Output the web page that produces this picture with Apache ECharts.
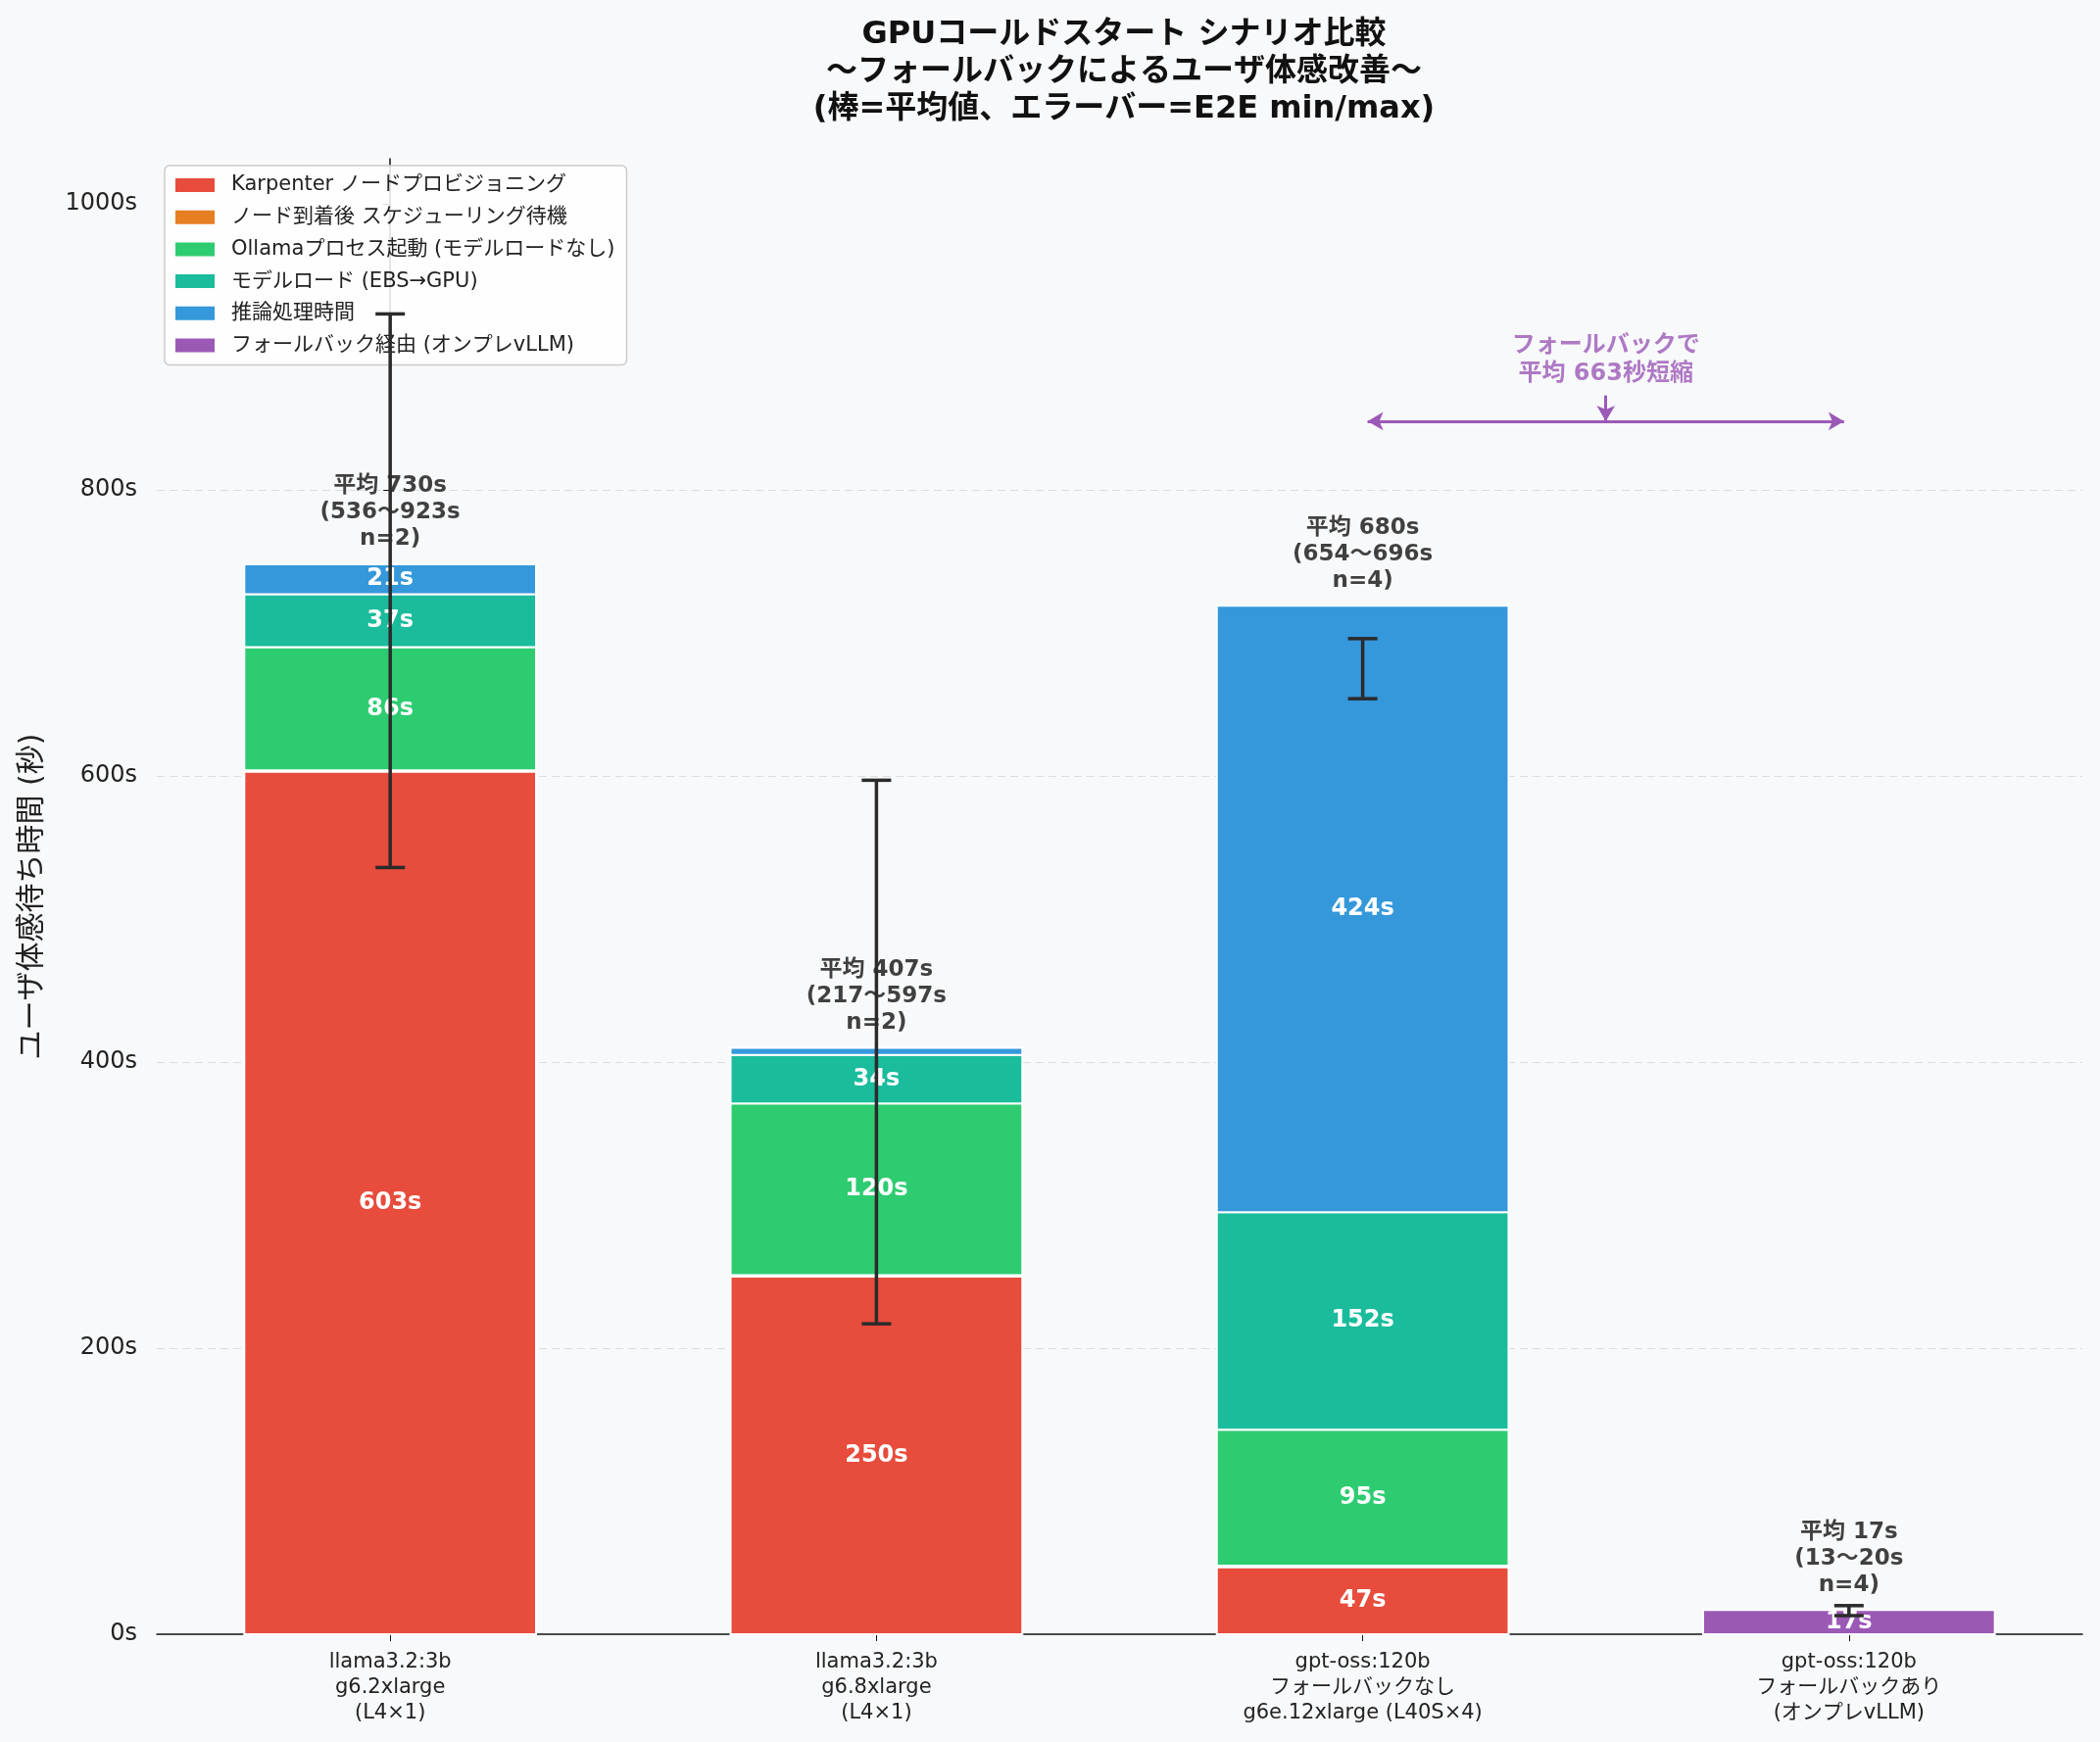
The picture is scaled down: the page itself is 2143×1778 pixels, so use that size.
<!DOCTYPE html>
<html>
<head>
<meta charset="utf-8">
<script src="https://cdn.jsdelivr.net/npm/echarts@6/dist/echarts.min.js"></script>
<style>
  html, body { margin: 0; padding: 0; background: #f8f9fa; }
  #chart { width: 2143px; height: 1778px; }
</style>
</head>
<body>
<div id="chart"></div>
<script>
// カテゴリ（x軸ラベル）
const categories = [
  'llama3.2:3b\ng6.2xlarge\n(L4×1)',
  'llama3.2:3b\ng6.8xlarge\n(L4×1)',
  'gpt-oss:120b\nフォールバックなし\ng6e.12xlarge (L40S×4)',
  'gpt-oss:120b\nフォールバックあり\n(オンプレvLLM)'
];

// 内訳（秒）
const karpenter  = [603, 250, 47, null];
const scheduling = [1, 1, 1, null];
const ollama     = [86, 120, 95, null];
const modelLoad  = [37, 34, 152, null];
const inference  = [21, 5, 424, null];
const fallback   = [null, null, null, 17];

// E2E 統計
const meanE2E = [730, 407, 680, 17];
const minE2E  = [536, 217, 654, 13];
const maxE2E  = [923, 597, 696, 20];
const sampleN = [2, 2, 4, 4];

// y軸目盛り
const yTicks = [0, 200, 400, 600, 800, 1000];

// フォールバック効果の注記
const savingText = 'フォールバックで\n平均 663秒短縮';
const savingY = 848;

const FONT = '"DejaVu Sans", "Noto Sans CJK JP", sans-serif';

const segments = [
  { name: 'Karpenter ノードプロビジョニング', data: karpenter, color: '#e74c3c' },
  { name: 'ノード到着後 スケジューリング待機', data: scheduling, color: '#e67e22' },
  { name: 'Ollamaプロセス起動 (モデルロードなし)', data: ollama, color: '#2ecc71' },
  { name: 'モデルロード (EBS→GPU)', data: modelLoad, color: '#1abc9c' },
  { name: '推論処理時間', data: inference, color: '#3498db' },
  { name: 'フォールバック経由 (オンプレvLLM)', data: fallback, color: '#9b59b6' }
];

function initChart() {
  const chart = echarts.init(document.getElementById('chart'));

  // 積み上げの下端を計算
  const base = categories.map(() => 0);
  const barSeries = segments.map(seg => {
    const data = [];
    seg.data.forEach((v, i) => {
      if (v == null) return;
      data.push([i, base[i], v]);
      base[i] += v;
    });
    return {
      name: seg.name,
      type: 'custom',
      itemStyle: { color: seg.color },
      z: 2,
      data: data,
      encode: { x: 0, y: 1 },
      renderItem: (params, api) => {
        const x = api.value(0);
        const b = api.value(1);
        const v = api.value(2);
        const p0 = api.coord([x, b]);
        const p1 = api.coord([x, b + v]);
        const w = api.size([0.6, 0])[0];
        const el = {
          type: 'rect',
          shape: { x: p0[0] - w / 2, y: p1[1], width: w, height: p0[1] - p1[1] },
          style: { fill: seg.color, stroke: '#ffffff', lineWidth: 2 }
        };
        if (v >= 15) {
          el.textContent = {
            style: {
              text: v + 's',
              fill: '#ffffff',
              fontSize: 24,
              fontWeight: 'bold',
              fontFamily: FONT
            }
          };
          el.textConfig = { position: 'inside' };
        }
        return el;
      }
    };
  });
  const totals = base.slice();

  const option = {
    backgroundColor: '#f8f9fa',
    animation: false,
    textStyle: { fontFamily: FONT },
    title: {
      text: 'GPUコールドスタート シナリオ比較\n～フォールバックによるユーザ体感改善～\n(棒=平均値、エラーバー=E2E min/max)',
      left: 1142,
      top: 12,
      textAlign: 'center',
      textStyle: {
        fontFamily: FONT,
        fontSize: 32,
        fontWeight: 'bold',
        lineHeight: 38,
        color: '#111111'
      }
    },
    legend: {
      orient: 'vertical',
      left: 168,
      top: 169,
      padding: [9, 12, 9, 11],
      itemWidth: 40,
      itemHeight: 14,
      itemGap: 10.7,
      icon: 'rect',
      backgroundColor: 'rgba(255,255,255,0.85)',
      borderColor: '#cccccc',
      borderWidth: 1.5,
      borderRadius: 5,
      textStyle: {
        fontFamily: FONT,
        fontSize: 21,
        lineHeight: 22,
        color: '#222222',
        padding: [0, 0, 0, 12]
      },
      data: segments.map(s => s.name)
    },
    grid: { left: 160, right: 18, top: 162, bottom: 110 },
    xAxis: {
      type: 'value',
      min: -0.48,
      max: 3.48,
      splitLine: { show: false },
      axisLine: { lineStyle: { color: '#111111', width: 1.5 } },
      axisTick: { customValues: [0, 1, 2, 3], length: 7, lineStyle: { color: '#111111' } },
      axisLabel: {
        customValues: [0, 1, 2, 3],
        formatter: v => categories[Math.round(v)] || '',
        fontFamily: FONT,
        fontSize: 21,
        lineHeight: 26,
        color: '#222222',
        margin: 16
      }
    },
    yAxis: {
      type: 'value',
      min: 0,
      max: 1031.5,
      interval: 200,
      name: 'ユーザ体感待ち時間 (秒)',
      nameLocation: 'middle',
      nameRotate: 90,
      nameGap: 112,
      nameTextStyle: { fontFamily: FONT, fontSize: 30, color: '#222222' },
      axisLine: { show: true, lineStyle: { color: '#111111', width: 1.5 } },
      axisTick: { show: true, customValues: yTicks, length: 7, lineStyle: { color: '#111111' } },
      axisLabel: {
        customValues: yTicks,
        formatter: v => v + 's',
        fontFamily: FONT,
        fontSize: 24,
        color: '#222222',
        margin: 20
      },
      splitLine: {
        show: true,
        showMinLine: false,
        showMaxLine: false,
        lineStyle: { color: '#dddddd', type: [8, 5], width: 1.2 }
      }
    },
    series: [
      ...barSeries,
      // 合計ラベル
      {
        type: 'scatter',
        symbolSize: 0,
        silent: true,
        z: 3,
        data: totals.map((t, i) => [i, t]),
        label: {
          show: true,
          position: 'top',
          distance: 12,
          fontFamily: FONT,
          fontSize: 23,
          fontWeight: 'bold',
          lineHeight: 27,
          color: '#111111',
          formatter: p => {
            const i = p.dataIndex;
            return '平均 ' + meanE2E[i] + 's\n(' + minE2E[i] + '～' + maxE2E[i] + 's\nn=' + sampleN[i] + ')';
          }
        }
      },
      // エラーバー（E2E min/max）
      {
        type: 'custom',
        z: 5,
        silent: true,
        data: meanE2E.map((m, i) => [i, minE2E[i], maxE2E[i]]),
        encode: { x: 0, y: [1, 2] },
        renderItem: (params, api) => {
          const x = api.value(0);
          const lo = api.coord([x, api.value(1)]);
          const hi = api.coord([x, api.value(2)]);
          const cap = 15;
          const style = { stroke: '#2b2b2b', lineWidth: 3.5 };
          return {
            type: 'group',
            children: [
              { type: 'line', shape: { x1: lo[0], y1: lo[1], x2: hi[0], y2: hi[1] }, style },
              { type: 'line', shape: { x1: lo[0] - cap, y1: lo[1], x2: lo[0] + cap, y2: lo[1] }, style },
              { type: 'line', shape: { x1: hi[0] - cap, y1: hi[1], x2: hi[0] + cap, y2: hi[1] }, style }
            ]
          };
        }
      },
      // フォールバック効果の注記
      {
        type: 'scatter',
        symbolSize: 0,
        silent: true,
        z: 6,
        data: [[2.5, 870]],
        label: {
          show: true,
          position: 'top',
          distance: 2,
          fontFamily: FONT,
          fontSize: 24,
          fontWeight: 'bold',
          lineHeight: 29,
          color: '#9b59b6',
          formatter: () => savingText
        },
        markLine: {
          silent: true,
          label: { show: false },
          lineStyle: { color: '#9b59b6', width: 3, type: 'solid' },
          symbolSize: [14, 16],
          data: [
            [
              { coord: [2.01, savingY], symbol: 'arrow' },
              { coord: [2.99, savingY], symbol: 'arrow' }
            ],
            [
              { coord: [2.5, 866], symbol: 'none' },
              { coord: [2.5, savingY], symbol: 'arrow' }
            ]
          ]
        }
      }
    ]
  };

  chart.setOption(option);
  window.addEventListener('resize', () => chart.resize());
}

window.addEventListener('load', initChart);
</script>
</body>
</html>
